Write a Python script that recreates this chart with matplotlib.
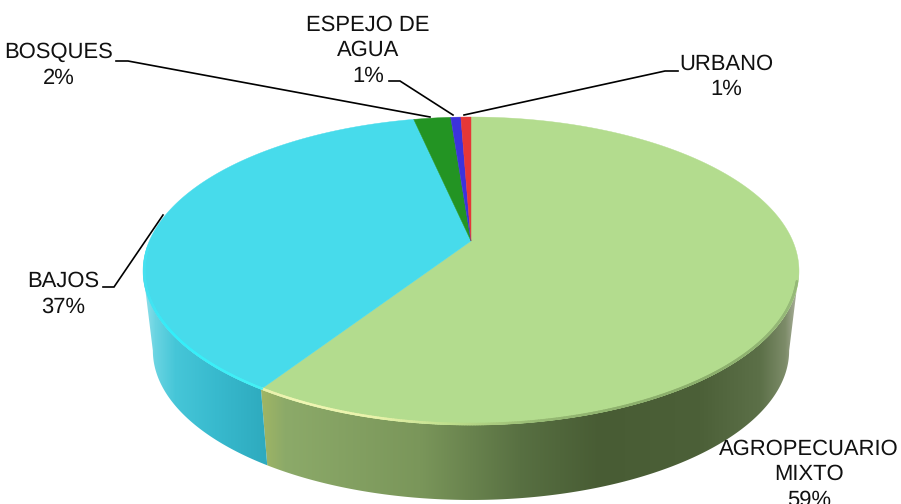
import numpy as np
import matplotlib
matplotlib.use("Agg")
import matplotlib.pyplot as plt
from matplotlib.collections import LineCollection
from matplotlib.patches import Polygon

plt.rcParams["font.family"] = ["Liberation Sans", "DejaVu Sans"]
plt.rcParams["text.hinting"] = "no_hinting"
plt.rcParams["text.hinting_factor"] = 1

# clockwise from 12 o'clock, shares
CATEGORIES = ["AGROPECUARIO\nMIXTO", "BAJOS", "BOSQUES", "ESPEJO DE\nAGUA", "URBANO"]
SHARES = [59.2, 37.4, 2.2, 0.6, 0.6]
PCT_LABELS = ["59%", "37%", "2%", "1%", "1%"]
COLORS = ["#b3dc8e", "#47dbeb", "#239423", "#3c32dc", "#e63737"]

# pie geometry in pixels, the flat disc is seen in perspective
CX, CY = 471, 241
PERSP = 0.1948
RX = 321.7
RY = -101.2
BOTTOM_SCALE = 0.97
BOTTOM_DY = 80.5


def disc_point(theta, scale=1.0, dy=0.0, r=1.0):
    u = r * np.sin(theta)
    v = r * np.cos(theta)
    den = 1 + PERSP * v
    x = CX + scale * RX * u / den
    y = CY + dy + scale * ((CY + RY * v) / den - CY)
    return x, y


def arc(t1, t2, **kw):
    t = np.linspace(t1, t2, max(int(abs(t2 - t1) * 150), 2))
    x, y = disc_point(t, **kw)
    return np.column_stack([x, y])


def shaded_side(ax, t1, t2, xs, rgb):
    # gradient runs along x, clipped to the outer wall of the slice
    top = arc(t1, t2)
    bot = arc(t2, t1, scale=BOTTOM_SCALE, dy=BOTTOM_DY)
    grid = np.arange(901)
    img = np.stack([np.interp(grid, xs, [c[i] for c in rgb]) for i in range(3)], axis=-1) / 255
    im = ax.imshow(img[None, :, :], extent=(0, 901, 504, 0), aspect="auto", zorder=1, interpolation="bilinear")
    patch = Polygon(np.vstack([top, bot]), closed=True, transform=ax.transData, fc="none", ec="none")
    ax.add_patch(patch)
    im.set_clip_path(patch)


def rim(ax, t1, t2, xs, rgb, lw):
    pts = arc(t1, t2, r=0.996)
    segs = np.stack([pts[:-1], pts[1:]], axis=1)
    mid = (pts[:-1, 0] + pts[1:, 0]) / 2
    cols = np.stack([np.interp(mid, xs, [c[i] for c in rgb]) for i in range(3)], axis=-1) / 255
    ax.add_collection(LineCollection(segs, colors=cols, linewidths=lw, zorder=3, capstyle="round"))


def main():
    fig = plt.figure(figsize=(9.01, 5.04), dpi=100)
    ax = fig.add_axes([0, 0, 1, 1])

    edges = np.radians(np.cumsum([0] + SHARES) * 3.6)

    # walls start where the rim turns away, so the outline joins top and bottom
    silhouette = np.arccos(-PERSP)
    shaded_side(ax, silhouette, edges[1],
                [261, 285, 420, 520, 600, 700, 760, 785, 795],
                [(160, 182, 100), (140, 170, 105), (122, 150, 90), (88, 112, 66), (72, 92, 52),
                 (76, 96, 56), (92, 112, 72), (125, 140, 105), (165, 172, 150)])
    shaded_side(ax, edges[1], 2 * np.pi - silhouette,
                [143, 155, 175, 215, 266],
                [(150, 225, 235), (105, 212, 226), (70, 198, 216), (56, 186, 206), (46, 170, 190)])

    # top face
    for i, col in enumerate(COLORS):
        pts = np.vstack([[CX, CY], arc(edges[i], edges[i + 1])])
        ax.add_patch(Polygon(pts, closed=True, fc=col, ec=col, lw=0.3, zorder=2))

    # bevel highlights along the front edge
    rim(ax, edges[1], np.radians(105),
        [261, 300, 380, 450, 540, 640, 720, 790],
        [(232, 240, 170), (240, 246, 180), (232, 242, 170), (190, 222, 140), (150, 185, 115),
         (140, 175, 108), (140, 175, 108), (150, 185, 120)], 1.8)
    rim(ax, edges[1], np.radians(268),
        [146, 170, 261], [(70, 225, 240), (50, 238, 250), (70, 240, 245)], 1.8)

    # leader lines
    leaders = [
        ([116, 128, 430], [61, 61, 117]),
        ([389, 400, 453], [81, 81, 115]),
        ([678, 665, 464], [71, 71, 115]),
        ([103, 114, 163], [287, 287, 215]),
    ]
    for xs, ys in leaders:
        ax.plot(xs, ys, color="black", lw=1.2, zorder=4, solid_joinstyle="miter")

    # labels
    label_pos = [(809, 474.5), (63, 294), (58.5, 65.5), (368, 50.5), (726, 76.5)]
    for cat, pct, (x, y) in zip(CATEGORIES, PCT_LABELS, label_pos):
        ax.text(x, y, f"{cat}\n{pct}", ha="center", va="center", fontsize=15.6,
                color="#111111", linespacing=1.33, zorder=5)

    ax.set_xlim(0, 901)
    ax.set_ylim(504, 0)
    ax.axis("off")
    fig.savefig("out.png", dpi=100)


if __name__ == "__main__":
    main()
